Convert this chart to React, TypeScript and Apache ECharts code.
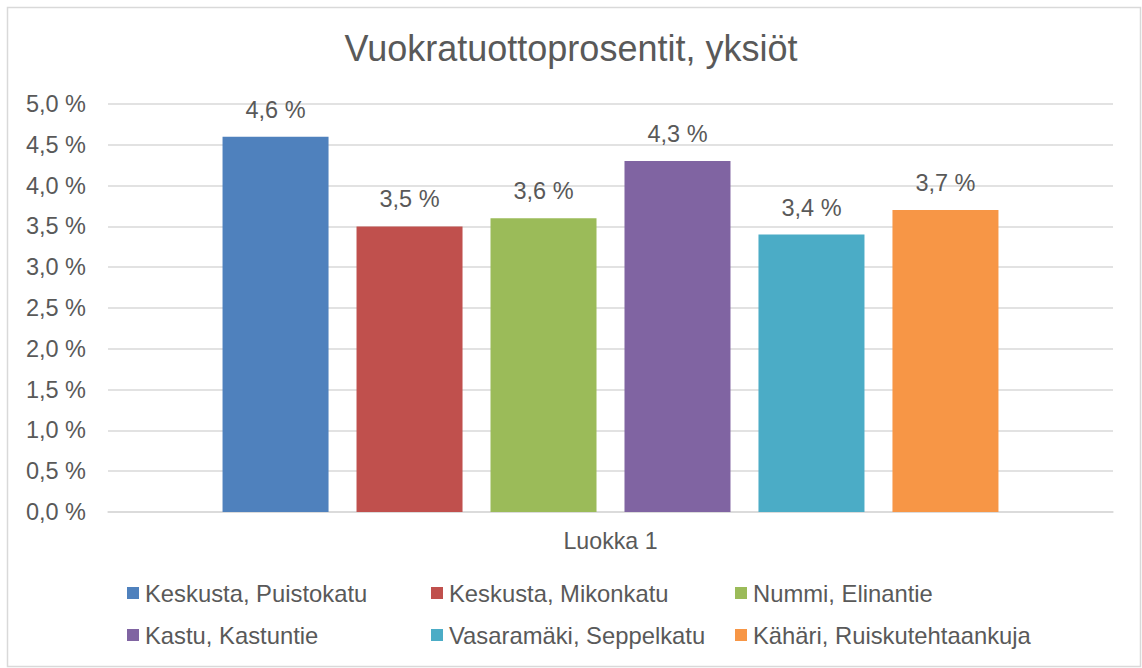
import React, { useEffect, useRef } from "react";
import * as echarts from "echarts";

const categories = ["Luokka 1"];
const seriesNames = [
  "Keskusta, Puistokatu",
  "Keskusta, Mikonkatu",
  "Nummi, Elinantie",
  "Kastu, Kastuntie",
  "Vasaramäki, Seppelkatu",
  "Kähäri, Ruiskutehtaankuja",
];
const seriesValues = [4.6, 3.5, 3.6, 4.3, 3.4, 3.7];
const seriesColors = ["#4F81BD", "#C0504D", "#9BBB59", "#8064A2", "#4BACC6", "#F79646"];
const titleText = "Vuokratuottoprosentit, yksiöt";

const FONT = "'Liberation Sans', Arial, sans-serif";
const TEXT = "#595959";

const fmt = (v: number) => v.toFixed(1).replace(".", ",") + " %";

// legend layout positions (left, top) for the six items
const legendPos = [
  [127, 581],
  [431, 581],
  [735, 581],
  [127, 623],
  [431, 623],
  [735, 623],
];

export default function App() {
  const ref = useRef<HTMLDivElement>(null);
  useEffect(() => {
    document.body.style.margin = "0";
    const chart = echarts.init(ref.current!, null, { renderer: "svg" });
    chart.setOption({
      animation: false,
      backgroundColor: "#ffffff",
      textStyle: { fontFamily: FONT },
      title: {
        text: titleText,
        left: "center",
        top: 25,
        textStyle: { fontFamily: FONT, fontSize: 36, fontWeight: "normal", color: TEXT },
      },
      graphic: [
        {
          type: "rect",
          shape: { x: 7.5, y: 7.5, width: 1133, height: 659 },
          style: { fill: "none", stroke: "#d9d9d9", lineWidth: 1.5 },
          silent: true,
        },
      ],
      legend: seriesNames.map((name, i) => ({
        data: [name],
        left: legendPos[i][0],
        top: legendPos[i][1],
        padding: 0,
        itemWidth: 12,
        itemHeight: 12,
        icon: "rect",
        selectedMode: false,
        textStyle: { fontFamily: FONT, fontSize: 23.8, color: TEXT, padding: [0, 0, 0, 1] },
      })),
      grid: { left: 108, right: 29, top: 104, bottom: 156, containLabel: false },
      xAxis: {
        type: "category",
        data: categories,
        axisLine: { show: true, lineStyle: { color: "#d9d9d9", width: 1.5 } },
        axisTick: { show: false },
        axisLabel: { color: TEXT, fontSize: 23.2, fontFamily: FONT, margin: 17 },
      },
      yAxis: {
        type: "value",
        min: 0,
        max: 5,
        interval: 0.5,
        axisLine: { show: false },
        axisTick: { show: false },
        splitLine: { lineStyle: { color: "#d9d9d9", width: 1.5 } },
        axisLabel: { color: TEXT, fontSize: 23.5, fontFamily: FONT, margin: 22, formatter: (v: number) => fmt(v) },
      },
      series: seriesNames.map((name, i) => ({
        name,
        type: "bar",
        data: [seriesValues[i]],
        barWidth: 106,
        barGap: "26.4%",
        itemStyle: { color: seriesColors[i] },
        label: {
          show: true,
          position: "top",
          distance: 15,
          color: TEXT,
          fontSize: 23.5,
          fontFamily: FONT,
          formatter: (p: any) => fmt(p.value),
        },
      })),
    });
    return () => chart.dispose();
  }, []);
  return <div ref={ref} style={{ width: 1142, height: 668 }} />;
}
